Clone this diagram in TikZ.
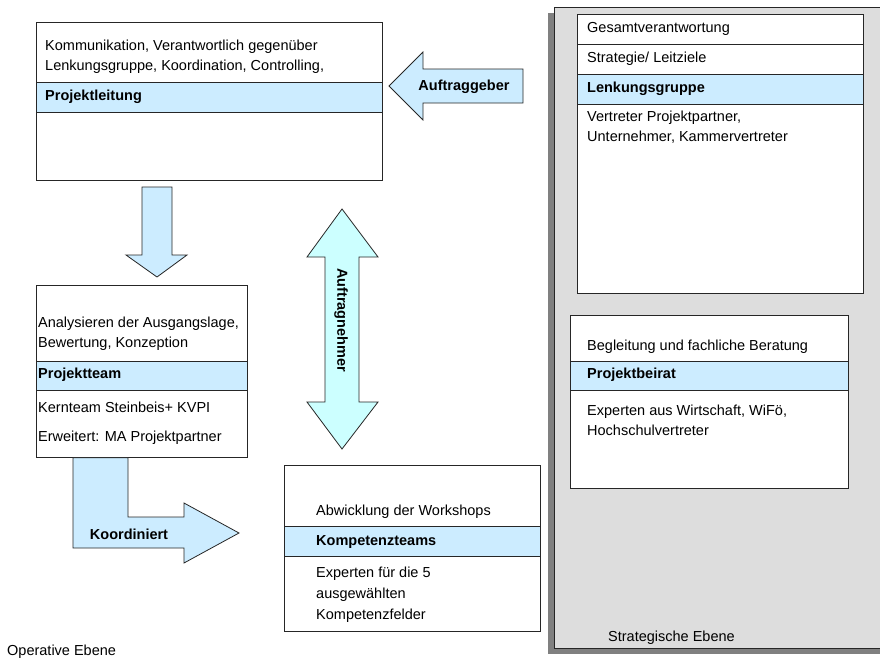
\documentclass[tikz,border=0pt]{standalone}
\usepackage{fontspec}
\setmainfont{Liberation Sans}

\definecolor{bandblue}{HTML}{CCECFF}
\definecolor{arrowcyan}{HTML}{CCFFFF}
\definecolor{panelgray}{HTML}{DDDDDD}
\definecolor{shadowgray}{HTML}{808080}

\tikzset{
    box/.style={draw=black!85,fill=white,line width=0.8pt,inner sep=0,anchor=north west},
    band/.style={draw=black!85,fill=bandblue,line width=0.8pt},
    txt/.style={anchor=west,inner sep=0,align=left,font=\fontsize{14.5}{20}\selectfont},
    title/.style={txt,font=\fontsize{14.5}{20}\selectfont\bfseries},
    blockarrow/.style={draw=black!85,fill=bandblue,line width=0.8pt,line join=miter},
}

\begin{document}
\begin{tikzpicture}[x=1pt,y=-1pt]
        \useasboundingbox (0,0) rectangle (880,659);

        % Strategische Ebene
        \fill[shadowgray] (548,13) rectangle (880,654);
        \filldraw[fill=panelgray,draw=black!85,line width=0.8pt] (554,7) rectangle (886,648);

        % Boxes
        \foreach \n/\x/\y/\w/\h in {pl/36/22/346/158, pt/36/285/211/172, kt/284/465/256/166,
                                  lg/577/14/286/279, pb/570/315/278/173} {
            \node[box,minimum width=\w pt,minimum height=\h pt] (\n) at (\x,\y) {};
        }

        \foreach \x/\y/\X/\Y in {36/82/382/112, 36/361/247/390, 284/526/540/556,
                                 577/74/863/104, 570/361/848/390} {
            \filldraw[band] (\x,\y) rectangle (\X,\Y);
        }
        \draw[black!85,line width=0.8pt] (lg.west |- 0,44) -- (lg.east |- 0,44);

        % Arrows
        \filldraw[blockarrow] (523,69) -- (423,69) -- (423,52) -- (389,86)
            -- (423,120) -- (423,103) -- (523,103) -- cycle;
        \filldraw[blockarrow] (142,187) -- (172,187) -- (172,255) -- (187,255)
            -- (157,277) -- (126,255) -- (142,255) -- cycle;
        \filldraw[blockarrow,fill=arrowcyan] (342,209) -- (378,257) -- (359,257) -- (359,402)
            -- (378,402) -- (342,449) -- (307,402) -- (325,402) -- (325,257) -- (307,257) -- cycle;
        \filldraw[blockarrow] (pt.south -| 73,0) -- (pt.south -| 128,0) -- (128,517) -- (184,517)
            -- (184,503) -- (239,533) -- (184,563) -- (184,548) -- (73,548) -- cycle;

        \node[title,anchor=center] (auftraggeber) at (464,87) {Auftraggeber};
        \node[title,anchor=center,rotate=-90] (auftragnehmer) at (341,320) {Auftragnehmer};
        \node[title,anchor=center] (koordiniert) at (129,534) {Koordiniert};

        % Texts
        \node[txt] (pl1) at (45,56.5) {Kommunikation, Verantwortlich gegenüber\\Lenkungsgruppe, Koordination, Controlling,};
        \node[title] (pl2) at (45,97) {Projektleitung};

        \node[txt] (pt1) at (38,333.5) {Analysieren der Ausgangslage,\\Bewertung, Konzeption};
        \node[title] (pt2) at (38,375) {Projektteam};
        \node[txt] (pt3) at (38,407) {Kernteam Steinbeis+ KVPI};
        \node[txt] (pt4) at (38,438) {Erweitert: MA Projektpartner};

        \node[txt] (kt1) at (316,512) {Abwicklung der Workshops};
        \node[title] (kt2) at (316,542) {Kompetenzteams};
        \node[txt,font=\fontsize{14.5}{21}\selectfont] (kt3) at (316,595) {Experten für die 5\\ausgewählten\\Kompetenzfelder};

        \node[txt] (lg1) at (587,29) {Gesamtverantwortung};
        \node[txt] (lg2) at (587,59) {Strategie/ Leitziele};
        \node[title] (lg3) at (587,89) {Lenkungsgruppe};
        \node[txt] (lg4) at (587,127.5) {Vertreter Projektpartner,\\Unternehmer, Kammervertreter};

        \node[txt] (pb1) at (587,347) {Begleitung und fachliche Beratung};
        \node[title] (pb2) at (587,375) {Projektbeirat};
        \node[txt] (pb3) at (587,420) {Experten aus Wirtschaft, WiFö,\\Hochschulvertreter};

        \node[txt] (strategisch) at (608,638) {Strategische Ebene};
        \node[txt] (operativ) at (7,652) {Operative Ebene};
    \end{tikzpicture}
\end{document}
